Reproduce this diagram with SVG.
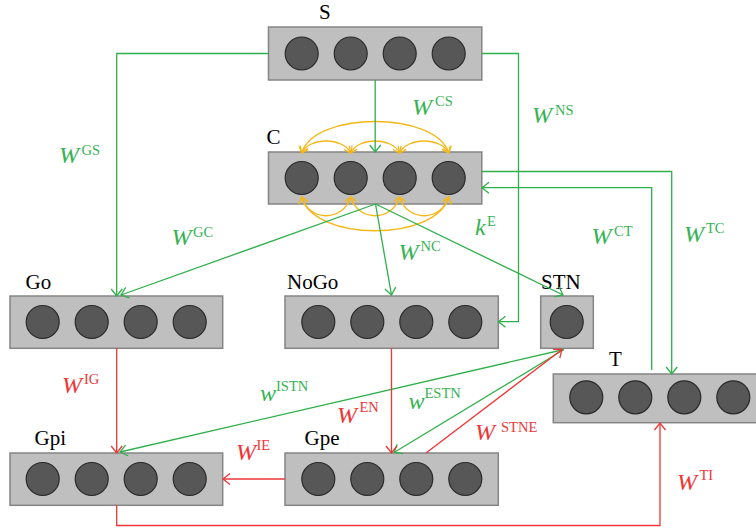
<svg xmlns="http://www.w3.org/2000/svg" width="756" height="529" viewBox="0 0 756 529">
<style>
.box{fill:#bfbfbf;stroke:#858585;stroke-width:1.5}
.n{fill:#575757;stroke:#2a2a2a;stroke-width:1.2}
.name{font-family:"Liberation Serif",serif;font-size:21px;fill:#000}
.lbl{font-family:"Liberation Serif",serif;font-size:24px}
.it{font-style:italic}
.sup{font-size:14.5px;font-style:normal}
.g{fill:#35b353}
.r{fill:#ee3636}
.cg{fill:none;stroke:#2fb04c;stroke-width:1.3}
.cr{fill:none;stroke:#ee3636;stroke-width:1.3}
.cy{fill:none;stroke:#f5b716;stroke-width:1.3}
</style>
<defs>
<marker id="ag" markerUnits="userSpaceOnUse" markerWidth="16" markerHeight="16" refX="0" refY="0" viewBox="-9 -8 10 16" orient="auto">
<path d="M-7,-5.5 L0,0 L-7,5.5" fill="none" stroke="#2fb04c" stroke-width="1.3"/>
</marker>
<marker id="ar" markerUnits="userSpaceOnUse" markerWidth="16" markerHeight="16" refX="0" refY="0" viewBox="-9 -8 10 16" orient="auto">
<path d="M-7,-5.5 L0,0 L-7,5.5" fill="none" stroke="#ee3636" stroke-width="1.3"/>
</marker>
<marker id="ay" markerUnits="userSpaceOnUse" markerWidth="14" markerHeight="14" refX="0" refY="0" viewBox="-8 -7 9 14" orient="auto-start-reverse">
<path d="M-6,-4.5 L0,0 L-6,4.5" fill="none" stroke="#f5b716" stroke-width="1.3"/>
</marker>
</defs>

<g id="S">
<rect class="box" x="268.5" y="27" width="213.3" height="53"/>
<circle class="n" cx="301.7" cy="53.5" r="16.5"/><circle class="n" cx="350.7" cy="53.5" r="16.5"/><circle class="n" cx="399.7" cy="53.5" r="16.5"/><circle class="n" cx="448.7" cy="53.5" r="16.5"/>
<text class="name" x="319" y="19">S</text>
</g>
<g id="C">
<rect class="box" x="268.5" y="152" width="213.3" height="52"/>
<circle class="n" cx="301.7" cy="178" r="16.5"/><circle class="n" cx="350.7" cy="178" r="16.5"/><circle class="n" cx="399.7" cy="178" r="16.5"/><circle class="n" cx="448.7" cy="178" r="16.5"/>
<text class="name" x="266.5" y="144">C</text>
</g>
<g id="Go">
<rect class="box" x="10" y="296" width="212.7" height="52.3"/>
<circle class="n" cx="42.7" cy="322" r="16.5"/><circle class="n" cx="91.7" cy="322" r="16.5"/><circle class="n" cx="140.7" cy="322" r="16.5"/><circle class="n" cx="189.7" cy="322" r="16.5"/>
<text class="name" x="25.5" y="288.5">Go</text>
</g>
<g id="NoGo">
<rect class="box" x="285" y="296" width="213.3" height="52.3"/>
<circle class="n" cx="318.3" cy="322" r="16.5"/><circle class="n" cx="367.3" cy="322" r="16.5"/><circle class="n" cx="416.3" cy="322" r="16.5"/><circle class="n" cx="465.3" cy="322" r="16.5"/>
<text class="name" x="287" y="288.5">NoGo</text>
</g>
<g id="STN">
<rect class="box" x="540.7" y="296" width="52.6" height="52.3"/>
<circle class="n" cx="566.7" cy="322" r="16.5"/>
<text class="name" x="541" y="288.5">STN</text>
</g>
<g id="T">
<rect class="box" x="553.3" y="374" width="215" height="48.7"/>
<circle class="n" cx="586.3" cy="397.3" r="16.5"/><circle class="n" cx="635.3" cy="397.3" r="16.5"/><circle class="n" cx="684.3" cy="397.3" r="16.5"/><circle class="n" cx="733.3" cy="397.3" r="16.5"/>
<text class="name" x="609" y="366">T</text>
</g>
<g id="Gpi">
<rect class="box" x="10" y="453" width="212.7" height="52.3"/>
<circle class="n" cx="42.7" cy="479" r="16.5"/><circle class="n" cx="91.7" cy="479" r="16.5"/><circle class="n" cx="140.7" cy="479" r="16.5"/><circle class="n" cx="189.7" cy="479" r="16.5"/>
<text class="name" x="34.5" y="445">Gpi</text>
</g>
<g id="Gpe">
<rect class="box" x="285" y="453" width="213.3" height="52.3"/>
<circle class="n" cx="318.3" cy="479" r="16.5"/><circle class="n" cx="367.3" cy="479" r="16.5"/><circle class="n" cx="416.3" cy="479" r="16.5"/><circle class="n" cx="465.3" cy="479" r="16.5"/>
<text class="name" x="304.5" y="445">Gpe</text>
</g>

<g id="connectors">
<path class="cy" marker-start="url(#ay)" marker-end="url(#ay)" d="M301.7,153 C309,137 343,137 350.7,153"/>
<path class="cy" marker-start="url(#ay)" marker-end="url(#ay)" d="M350.7,153 C358,137 392,137 399.7,153"/>
<path class="cy" marker-start="url(#ay)" marker-end="url(#ay)" d="M399.7,153 C407,137 441,137 448.7,153"/>
<path class="cy" marker-start="url(#ay)" marker-end="url(#ay)" d="M301.7,153 C314,111 436,111 448.7,153"/>
<path class="cy" marker-start="url(#ay)" marker-end="url(#ay)" d="M301.7,197 C309,222 343,222 350.7,197"/>
<path class="cy" marker-start="url(#ay)" marker-end="url(#ay)" d="M350.7,197 C358,222 392,222 399.7,197"/>
<path class="cy" marker-start="url(#ay)" marker-end="url(#ay)" d="M399.7,197 C407,222 441,222 448.7,197"/>
<path class="cy" marker-start="url(#ay)" marker-end="url(#ay)" d="M301.7,197 C314,242 436,242 448.7,197"/>
<path class="cg" marker-end="url(#ag)" d="M268.5,53.5 H116.7 V296"/>
<path class="cg" marker-end="url(#ag)" d="M375.2,80 V152"/>
<path class="cg" marker-end="url(#ag)" d="M481.8,53.5 H518.5 V321.7 H498.5"/>
<path class="cg" marker-end="url(#ag)" d="M481.8,171.5 H671.7 V374"/>
<path class="cg" marker-end="url(#ag)" d="M651.7,370 V187.7 H482"/>
<path class="cg" marker-end="url(#ag)" d="M375.5,204 L121,295"/>
<path class="cg" marker-end="url(#ag)" d="M375.5,204 L391.5,295"/>
<path class="cg" marker-end="url(#ag)" d="M375.5,204 L563,295"/>
<path class="cg" marker-end="url(#ag)" d="M564,349.5 L120,452"/>
<path class="cg" marker-end="url(#ag)" d="M564,349.5 L394,452.5"/>
<path class="cr" marker-end="url(#ar)" d="M116.7,348.3 V453"/>
<path class="cr" marker-end="url(#ar)" d="M391.5,348.3 V453"/>
<path class="cr" marker-end="url(#ar)" d="M285,479 H223"/>
<path class="cr" marker-end="url(#ar)" d="M116.7,505.3 V525.5 H660 V423"/>
<path class="cr" marker-end="url(#ar)" d="M426,453 L562,349.5"/>
</g>

<g id="labels">
<text class="lbl g"><tspan class="it" x="59" y="163.3">W</tspan><tspan class="sup" x="81.5" y="155">GS</tspan></text>
<text class="lbl g"><tspan class="it" x="412" y="115">W</tspan><tspan class="sup" x="435" y="106">CS</tspan></text>
<text class="lbl g"><tspan class="it" x="532" y="123.3">W</tspan><tspan class="sup" x="555" y="115">NS</tspan></text>
<text class="lbl g"><tspan class="it" x="171.5" y="245">W</tspan><tspan class="sup" x="193" y="236.5">GC</tspan></text>
<text class="lbl g"><tspan class="it" x="475" y="235">k</tspan><tspan class="sup" x="487" y="226">E</tspan></text>
<text class="lbl g"><tspan class="it" x="398.5" y="260">W</tspan><tspan class="sup" x="420.5" y="251">NC</tspan></text>
<text class="lbl g"><tspan class="it" x="591.5" y="244">W</tspan><tspan class="sup" x="614" y="236">CT</tspan></text>
<text class="lbl g"><tspan class="it" x="684" y="241.7">W</tspan><tspan class="sup" x="706" y="233.3">TC</tspan></text>
<text class="lbl r"><tspan class="it" x="62" y="393">W</tspan><tspan class="sup" x="84" y="384">IG</tspan></text>
<text class="lbl g"><tspan class="it" x="260" y="401">w</tspan><tspan class="sup" x="276" y="391">ISTN</tspan></text>
<text class="lbl r"><tspan class="it" x="337" y="423">W</tspan><tspan class="sup" x="359.5" y="412">EN</tspan></text>
<text class="lbl g"><tspan class="it" x="408.5" y="409">w</tspan><tspan class="sup" x="424.5" y="398">ESTN</tspan></text>
<text class="lbl r"><tspan class="it" x="236" y="460">W</tspan><tspan class="sup" x="256.5" y="450">IE</tspan></text>
<text class="lbl r"><tspan class="it" x="475" y="440">W</tspan><tspan class="sup" x="501" y="431.5">STNE</tspan></text>
<text class="lbl r"><tspan class="it" x="677" y="490">W</tspan><tspan class="sup" x="699.5" y="480">TI</tspan></text>
</g>
</svg>
